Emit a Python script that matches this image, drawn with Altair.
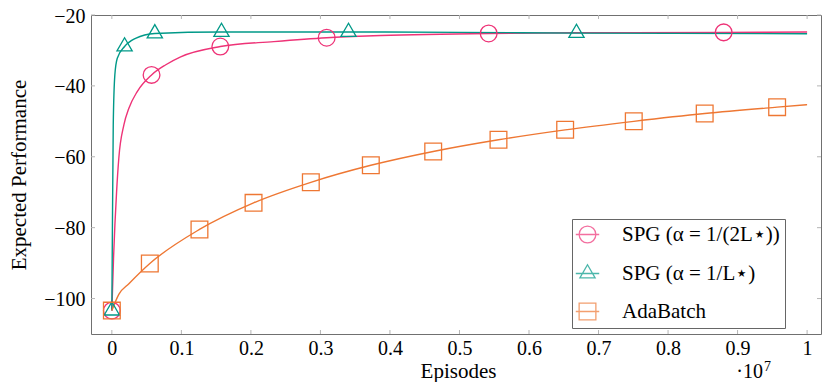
import altair as alt
import pandas as pd

# ---------------- data (x in units of 1e7 episodes) ----------------
series_names = ["SPG (α = 1/(2L⋆))", "SPG (α = 1/L⋆)", "AdaBatch"]
series_colors = ["#EE3377", "#009988", "#EE7733"]

spg2_x = [0, 0.0024, 0.0068, 0.010, 0.0173, 0.0245, 0.0365, 0.0571, 0.077, 0.099,
          0.156, 0.233, 0.309, 0.387, 0.542, 0.70, 0.880, 1.0]
spg2_y = [-103.4, -88.7, -69.9, -60.4, -51.0, -46.3, -41.6, -36.9, -34.1, -31.8,
          -28.9, -27.5, -26.4, -25.8, -25.2, -25.0, -24.9, -24.8]
spg2_mx = [0, 0.0571, 0.156, 0.309, 0.542, 0.880]
spg2_my = [-103.4, -36.9, -28.9, -26.4, -25.2, -24.9]

spg1_x = [0, 0.0005, 0.002, 0.0043, 0.0078, 0.0183, 0.034, 0.0618, 0.1577, 0.3404,
          0.50, 0.6683, 1.0]
spg1_y = [-103.4, -88.7, -51.0, -36.9, -32.2, -28.9, -26.6, -25.2, -24.8, -24.8,
          -24.9, -25.1, -25.3]
spg1_mx = [0, 0.0183, 0.0618, 0.1577, 0.3404, 0.6683]
spg1_my = [-103.4, -28.9, -25.2, -24.8, -24.8, -25.1]

ada_x = [0, 0.010, 0.0245, 0.0546, 0.126, 0.2038, 0.2862, 0.3725, 0.4622, 0.5561,
         0.652, 0.7507, 0.8527, 0.9569, 1.0]
ada_y = [-103.4, -98.8, -95.8, -90.1, -80.5, -73.0, -67.2, -62.4, -58.5, -55.2,
         -52.4, -50.0, -47.8, -46.0, -45.3]
ada_mx = [0, 0.0546, 0.126, 0.2038, 0.2862, 0.3725, 0.4622, 0.5561, 0.652, 0.7507,
          0.8527, 0.9569]
ada_my = [-103.4, -90.1, -80.5, -73.0, -67.2, -62.4, -58.5, -55.2, -52.4, -50.0,
          -47.8, -46.0]

x_ticks = [0, 0.1, 0.2, 0.3, 0.4, 0.5, 0.6, 0.7, 0.8, 0.9, 1.0]
y_ticks = [-100, -80, -60, -40, -20]

# ---------------- tables ----------------
line_rows, mark_rows = [], []
for name, xs_, ys_ in zip(series_names, [spg2_x, spg1_x, ada_x], [spg2_y, spg1_y, ada_y]):
    for i, (a, b) in enumerate(zip(xs_, ys_)):
        line_rows.append({"series": name, "x": a, "y": b, "o": i})
for name, xs_, ys_ in zip(series_names, [spg2_mx, spg1_mx, ada_mx], [spg2_my, spg1_my, ada_my]):
    for a, b in zip(xs_, ys_):
        mark_rows.append({"series": name, "x": a, "y": b})
line_df = pd.DataFrame(line_rows)
mark_df = pd.DataFrame(mark_rows)
xt_df = pd.DataFrame({"x": x_ticks})
yt_df = pd.DataFrame({"y": y_ticks})

W, H = 730, 319
FONT = "Liberation Serif"
FS = 21      # titles / legend
LFS = 20     # tick labels
TICKC = "#b5b5b5"

xs = alt.Scale(domain=[-0.03, 1.02], nice=False, zero=False)
ys = alt.Scale(domain=[-110, -20], nice=False, zero=False)

circle_p = "M-1,0A1,1 0 1,0 1,0A1,1 0 1,0 -1,0"
tri_p = "M0,-1.05L0.91,0.525L-0.91,0.525Z"
sq_p = "M-1,-1H1V1H-1Z"
leg_paths = ["M-1.4,0H1.4" + circle_p, "M-1.4,0H1.4" + tri_p, "M-1.4,0H1.4" + sq_p]

x_axis = alt.Axis(values=x_ticks, format=".1~f", title="Episodes", ticks=False, domain=False,
                  grid=False, labelFont=FONT, labelFontSize=LFS, labelColor="black",
                  labelPadding=4, labelFlush=False, labelOverlap=False,
                  titleFont=FONT, titleFontSize=FS, titleFontWeight="normal", titleColor="black",
                  titleX=367, titleY=37, titleBaseline="middle")
y_axis = alt.Axis(values=y_ticks, title="Expected Performance", ticks=False, domain=False,
                  grid=False, labelFont=FONT, labelFontSize=LFS, labelColor="black",
                  labelPadding=6, labelFlush=False, labelOverlap=False, labelOffset=1,
                  titleFont=FONT, titleFontSize=FS, titleFontWeight="normal", titleColor="black",
                  titleX=-72, titleY=H / 2, titleBaseline="middle")

X = alt.X("x:Q", scale=xs, axis=x_axis)
Y = alt.Y("y:Q", scale=ys, axis=y_axis)

lines = alt.Chart(line_df).mark_line(interpolate="monotone", strokeWidth=1.4).encode(
    x=X, y=Y,
    color=alt.Color("series:N", scale=alt.Scale(domain=series_names, range=series_colors), legend=None),
    detail="series:N",
    order="o:Q",
)

points = alt.Chart(mark_df).mark_point(filled=False, size=280, strokeWidth=1.3, opacity=1).encode(
    x=X, y=Y,
    color=alt.Color("series:N", scale=alt.Scale(domain=series_names, range=series_colors), legend=None),
    shape=alt.Shape("series:N", scale=alt.Scale(domain=series_names, range=[circle_p, tri_p, sq_p]), legend=None),
)

legend = alt.Legend(title=None, orient="none", legendX=481, legendY=204, padding=5,
                    strokeColor="#666", fillColor="white", symbolSize=280, symbolStrokeWidth=1.3,
                    labelFont=FONT, labelFontSize=FS, labelColor="black", labelOffset=24,
                    rowPadding=16, labelLimit=500)
carrier = alt.Chart(mark_df).transform_filter("false").mark_point(filled=False, size=280, strokeWidth=1.3).encode(
    x=X, y=Y,
    color=alt.Color("series:N", scale=alt.Scale(domain=series_names, range=series_colors), legend=legend),
    shape=alt.Shape("series:N", scale=alt.Scale(domain=series_names, range=leg_paths), legend=legend),
)

tick_bottom = alt.Chart(xt_df).mark_rule(color=TICKC, strokeWidth=1).encode(
    x=X, y=alt.value(H), y2=alt.value(H - 4))
tick_top = alt.Chart(xt_df).mark_rule(color=TICKC, strokeWidth=1).encode(
    x=X, y=alt.value(0), y2=alt.value(4))
tick_left = alt.Chart(yt_df).mark_rule(color=TICKC, strokeWidth=1).encode(
    y=Y, x=alt.value(0), x2=alt.value(4))
tick_right = alt.Chart(yt_df).mark_rule(color=TICKC, strokeWidth=1).encode(
    y=Y, x=alt.value(W), x2=alt.value(W - 4))

exp_base = alt.Chart(pd.DataFrame({"t": ["·10"]})).mark_text(
    font=FONT, fontSize=LFS, align="right", baseline="alphabetic", color="black").encode(
    text="t:N", x=alt.value(672), y=alt.value(362.5))
exp_sup = alt.Chart(pd.DataFrame({"t": ["7"]})).mark_text(
    font=FONT, fontSize=14, align="left", baseline="alphabetic", color="black").encode(
    text="t:N", x=alt.value(673), y=alt.value(355.5))

chart = alt.layer(
    lines, tick_bottom, tick_top, tick_left, tick_right, points, carrier, exp_base, exp_sup
).resolve_scale(color="independent", shape="independent").properties(
    width=W, height=H,
    autosize=alt.AutoSizeParams(type="none"),
    padding={"left": 83, "top": 7, "right": 1, "bottom": 48},
    background="white",
).configure_view(stroke="#707070", strokeWidth=1)

chart.save("out.html", embed_options={"renderer": "svg", "actions": False})
